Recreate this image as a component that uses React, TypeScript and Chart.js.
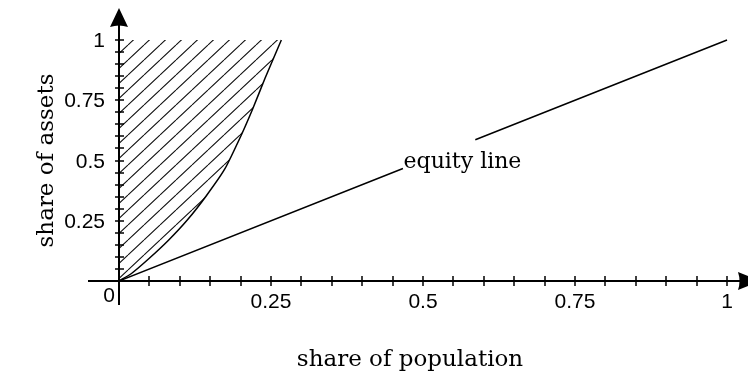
import React, { useEffect, useRef } from "react";
import { Chart, registerables } from "chart.js";

Chart.register(...registerables);

// Lorenz-type curve (share of population -> share of assets)
const curvePop = [0, 0.02, 0.048, 0.081, 0.113, 0.144, 0.174, 0.201, 0.22, 0.24, 0.267];
const curveAssets = [0, 0.03, 0.09, 0.168, 0.255, 0.355, 0.465, 0.605, 0.715, 0.84, 1.0];

// Equity line y = x, broken where its label sits
const equityPop = [0, 0.467, 0.526, 0.586, 1];
const equityAssets: (number | null)[] = [0, 0.467, null, 0.586, 1];
const equityLabel = "equity line";
const equityLabelAt = [0.468, 0.469];

// Axis ticks and labels
const minorStep = 0.05;
const tickMax = 1;
const xTickValues = [0, 0.25, 0.5, 0.75, 1];
const xTickLabels = ["0", "0.25", "0.5", "0.75", "1"];
const yTickValues = [0.25, 0.5, 0.75, 1];
const yTickLabels = ["0.25", "0.5", "0.75", "1"];
const xTitle = "share of population";
const yTitle = "share of assets";

const TICK_FONT = "21px 'Liberation Sans', Arial, sans-serif";
const TITLE_FONT = "23px 'DejaVu Serif', serif";
const LABEL_FONT = "22px 'DejaVu Serif', serif";

function makeHatch(): CanvasPattern | string {
  const W = 16;
  const H = 15;
  const c = document.createElement("canvas");
  c.width = W;
  c.height = H;
  const g = c.getContext("2d");
  if (!g) return "rgba(0,0,0,0.2)";
  g.strokeStyle = "#111";
  g.lineWidth = 1.1;
  g.beginPath();
  for (const k of [-1, 0, 1]) {
    g.moveTo(k * W, H);
    g.lineTo(k * W + W, 0);
  }
  g.stroke();
  const p = g.createPattern(c, "repeat");
  return p || "rgba(0,0,0,0.2)";
}

const axesPlugin = {
  id: "axesDraw",
  afterDatasetsDraw(chart: any) {
    const { ctx } = chart;
    const xs = chart.scales.x;
    const ys = chart.scales.y;
    const x0 = xs.getPixelForValue(0);
    const y0 = ys.getPixelForValue(0);
    ctx.save();
    ctx.strokeStyle = "#000";
    ctx.fillStyle = "#000";

    // axis lines
    ctx.lineWidth = 2;
    ctx.beginPath();
    ctx.moveTo(x0 - 31, y0);
    ctx.lineTo(xs.right - 8, y0);
    ctx.moveTo(x0, y0 + 24);
    ctx.lineTo(x0, ys.top + 17);
    ctx.stroke();

    // arrows
    ctx.beginPath();
    ctx.moveTo(x0, ys.top);
    ctx.lineTo(x0 + 9, ys.top + 19);
    ctx.quadraticCurveTo(x0, ys.top + 16, x0 - 9, ys.top + 19);
    ctx.closePath();
    ctx.fill();
    const ax = xs.right - 10;
    ctx.beginPath();
    ctx.moveTo(ax + 22, y0);
    ctx.lineTo(ax, y0 - 9);
    ctx.quadraticCurveTo(ax + 3, y0, ax, y0 + 9);
    ctx.closePath();
    ctx.fill();

    // minor ticks
    ctx.lineWidth = 1.5;
    ctx.beginPath();
    const n = Math.round(tickMax / minorStep);
    for (let i = 1; i <= n; i++) {
      const v = i * minorStep;
      const px = Math.round(xs.getPixelForValue(v));
      ctx.moveTo(px, y0 - 5);
      ctx.lineTo(px, y0 + 5);
      const py = Math.round(ys.getPixelForValue(v));
      ctx.moveTo(x0 - 4, py);
      ctx.lineTo(x0 + 5, py);
    }
    ctx.stroke();

    // tick labels
    ctx.font = TICK_FONT;
    ctx.textBaseline = "alphabetic";
    xTickValues.forEach((v, i) => {
      const px = xs.getPixelForValue(v);
      if (v === 0) {
        ctx.textAlign = "right";
        ctx.fillText(xTickLabels[i], x0 - 4, y0 + 21);
      } else {
        ctx.textAlign = "center";
        ctx.fillText(xTickLabels[i], px, y0 + 27);
      }
    });
    ctx.textAlign = "right";
    yTickValues.forEach((v, i) => {
      const py = ys.getPixelForValue(v);
      ctx.fillText(yTickLabels[i], x0 - 14, py + 7);
    });

    // titles
    ctx.font = TITLE_FONT;
    ctx.textAlign = "center";
    ctx.fillText(xTitle, xs.getPixelForValue(0.5) - 13, y0 + 85);
    ctx.save();
    ctx.translate(x0 - 66, ys.getPixelForValue(0.5));
    ctx.rotate(-Math.PI / 2);
    ctx.fillText(yTitle, 0, 0);
    ctx.restore();

    // equity line label
    ctx.font = LABEL_FONT;
    ctx.textAlign = "left";
    ctx.fillText(equityLabel, xs.getPixelForValue(equityLabelAt[0]), ys.getPixelForValue(equityLabelAt[1]));
    ctx.restore();
  },
};

export default function App() {
  const ref = useRef<HTMLCanvasElement | null>(null);
  useEffect(() => {
    document.body.style.margin = "0";
    if (!ref.current) return;
    const hatch = makeHatch();
    const chart = new Chart(ref.current, {
      type: "scatter",
      data: {
        datasets: [
          {
            label: "curve",
            data: curvePop.map((x, i) => ({ x, y: curveAssets[i] })),
            showLine: true,
            tension: 0.2,
            borderColor: "#000",
            borderWidth: 1.5,
            pointRadius: 0,
            backgroundColor: hatch as any,
            fill: { value: 1 } as any,
          },
          {
            label: "equity",
            data: equityPop.map((x, i) => ({ x, y: equityAssets[i] })) as any,
            showLine: true,
            spanGaps: false,
            borderColor: "#000",
            borderWidth: 1.5,
            pointRadius: 0,
            fill: false,
          },
        ],
      },
      options: {
        animation: false,
        responsive: true,
        maintainAspectRatio: false,
        layout: { padding: { left: 119, right: 0, top: 8, bottom: 95 } },
        plugins: { legend: { display: false }, tooltip: { enabled: false } },
        scales: {
          x: { type: "linear", min: 0, max: 1.0345, display: false },
          y: { type: "linear", min: 0, max: 1.1328, display: false },
        },
      },
      plugins: [axesPlugin],
    });
    return () => chart.destroy();
  }, []);
  return (
    <div style={{ position: "fixed", left: 0, top: 0, width: 748, height: 376, background: "#fff" }}>
      <canvas ref={ref} />
    </div>
  );
}
